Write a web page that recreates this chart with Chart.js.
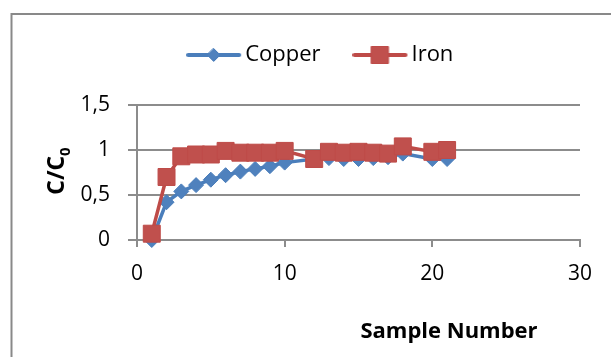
<!DOCTYPE html>
<html>
<head>
<meta charset="utf-8">
<script src="https://cdn.jsdelivr.net/npm/chart.js@4.4.0/dist/chart.umd.min.js"></script>
<style>
  html, body { margin: 0; padding: 0; background: #fff; }
  canvas { display: block; }
</style>
</head>
<body>
<canvas id="chart" width="611" height="357"></canvas>
<script>
const sampleNumbers = [1, 2, 3, 4, 5, 6, 7, 8, 9, 10, 12, 13, 14, 15, 16, 17, 18, 20, 21];
const copper = [0.0, 0.42, 0.54, 0.61, 0.67, 0.72, 0.76, 0.79, 0.82, 0.86, 0.9, 0.91, 0.9, 0.9, 0.91, 0.92, 0.96, 0.9, 0.9];
const iron = [0.07, 0.7, 0.93, 0.95, 0.95, 0.99, 0.97, 0.97, 0.97, 0.99, 0.9, 0.98, 0.97, 0.98, 0.97, 0.96, 1.04, 0.98, 1.0];
const xTicks = [0, 10, 20, 30];
const yTicks = [0, 0.5, 1, 1.5];
const seriesNames = ["Copper", "Iron"];

const FONT = '"Open Sans", "Liberation Sans", sans-serif';
const GRID = "#8c8c8c";

// little line + marker picture for the legend, like Excel does it
function legendIcon(lineColor, fill, edge, shape) {
  const c = document.createElement("canvas");
  c.width = 58;
  c.height = 24;
  const g = c.getContext("2d");
  g.strokeStyle = lineColor;
  g.lineWidth = 4;
  g.lineCap = "round";
  g.beginPath();
  g.moveTo(2, 12);
  g.lineTo(53, 12);
  g.stroke();
  g.fillStyle = fill;
  g.strokeStyle = edge;
  g.lineWidth = 1;
  g.beginPath();
  if (shape === "diamond") {
    g.moveTo(27.5, 5.5);
    g.lineTo(34, 12);
    g.lineTo(27.5, 18.5);
    g.lineTo(21, 12);
    g.closePath();
  } else {
    g.rect(19, 3.5, 17, 17);
  }
  g.fill();
  g.stroke();
  return c;
}

const icons = [
  legendIcon("#4a7ebb", "#4f81bd", "#4a7ebb", "diamond"),
  legendIcon("#be4b48", "#c0504d", "#be4b48", "square")
];

function toPoints(values) {
  return sampleNumbers.map((n, i) => ({ x: n, y: values[i] }));
}

const axisTitles = {
  id: "axisTitles",
  beforeDraw(chart) {
    const ctx = chart.ctx;
    ctx.save();
    ctx.strokeStyle = "#898989";
    ctx.lineWidth = 2;
    ctx.beginPath();
    ctx.moveTo(11.5, 357);
    ctx.lineTo(11.5, 14);
    ctx.lineTo(611, 14);
    ctx.stroke();
    ctx.restore();
  },
  afterDraw(chart) {
    const ctx = chart.ctx;
    ctx.save();
    ctx.fillStyle = "#000";
    ctx.textBaseline = "alphabetic";

    ctx.font = "bold 22px " + FONT;
    ctx.textAlign = "center";
    ctx.fillText("Sample Number", 449, 338);

    // C/C0 with subscript, turned on its side
    ctx.translate(64, 171);
    ctx.rotate(-Math.PI / 2);
    const big = "bold 23px " + FONT;
    const small = "bold 15px " + FONT;
    ctx.font = big;
    const w1 = ctx.measureText("C/C").width;
    ctx.font = small;
    const w2 = ctx.measureText("0").width;
    const start = -(w1 + w2) / 2;
    ctx.textAlign = "left";
    ctx.font = big;
    ctx.fillText("C/C", start, 0);
    ctx.font = small;
    ctx.fillText("0", start + w1, 6);
    ctx.restore();
  }
};

new Chart(document.getElementById("chart"), {
  type: "scatter",
  data: {
    datasets: [
      {
        label: seriesNames[0],
        data: toPoints(copper),
        showLine: true,
        borderColor: "#4a7ebb",
        borderWidth: 3.5,
        pointStyle: "rectRot",
        pointRadius: 7.5,
        pointBackgroundColor: "#4f81bd",
        pointBorderColor: "#4a7ebb",
        pointBorderWidth: 1,
        clip: false,
        order: 1
      },
      {
        label: seriesNames[1],
        data: toPoints(iron),
        showLine: true,
        borderColor: "#be4b48",
        borderWidth: 3.5,
        pointStyle: "rect",
        pointRadius: 12,
        pointBackgroundColor: "#c0504d",
        pointBorderColor: "#be4b48",
        pointBorderWidth: 1,
        clip: false,
        order: 0
      }
    ]
  },
  options: {
    responsive: false,
    animation: false,
    layout: { padding: { left: 69.5, right: 31, top: 2, bottom: 0 } },
    plugins: {
      tooltip: { enabled: false },
      legend: {
        position: "top",
        labels: {
          usePointStyle: true,
          pointStyleWidth: 38,
          padding: 42,
          color: "#000",
          font: { family: FONT, size: 22 },
          generateLabels: () => seriesNames.map((name, i) => ({
            text: name,
            pointStyle: icons[i],
            fontColor: "#000",
            lineWidth: 0,
            datasetIndex: i
          }))
        }
      },
      // empty spacer between the legend and the plot
      subtitle: {
        display: true,
        text: "",
        position: "top",
        weight: 500,
        font: { size: 1, lineHeight: 1 },
        padding: { top: 0, bottom: 28 }
      }
    },
    scales: {
      x: {
        type: "linear",
        min: xTicks[0],
        max: xTicks[xTicks.length - 1],
        afterFit: scale => { scale.height = 117; },
        afterBuildTicks: scale => { scale.ticks = xTicks.map(v => ({ value: v })); },
        grid: { drawOnChartArea: false, color: GRID, lineWidth: 2, tickLength: 7 },
        border: { color: GRID, width: 2 },
        ticks: {
          color: "#000",
          padding: 14,
          maxRotation: 0,
          font: { family: FONT, size: 21 }
        }
      },
      y: {
        min: yTicks[0],
        max: yTicks[yTicks.length - 1],
        afterFit: scale => { scale.width = 67.5; },
        afterBuildTicks: scale => { scale.ticks = yTicks.map(v => ({ value: v })); },
        grid: { color: GRID, lineWidth: 2, tickLength: 9 },
        border: { color: GRID, width: 2 },
        ticks: {
          color: "#000",
          padding: 18,
          font: { family: FONT, size: 21 },
          callback: v => String(v).replace(".", ",")
        }
      }
    }
  },
  plugins: [axisTitles]
});
</script>
</body>
</html>
